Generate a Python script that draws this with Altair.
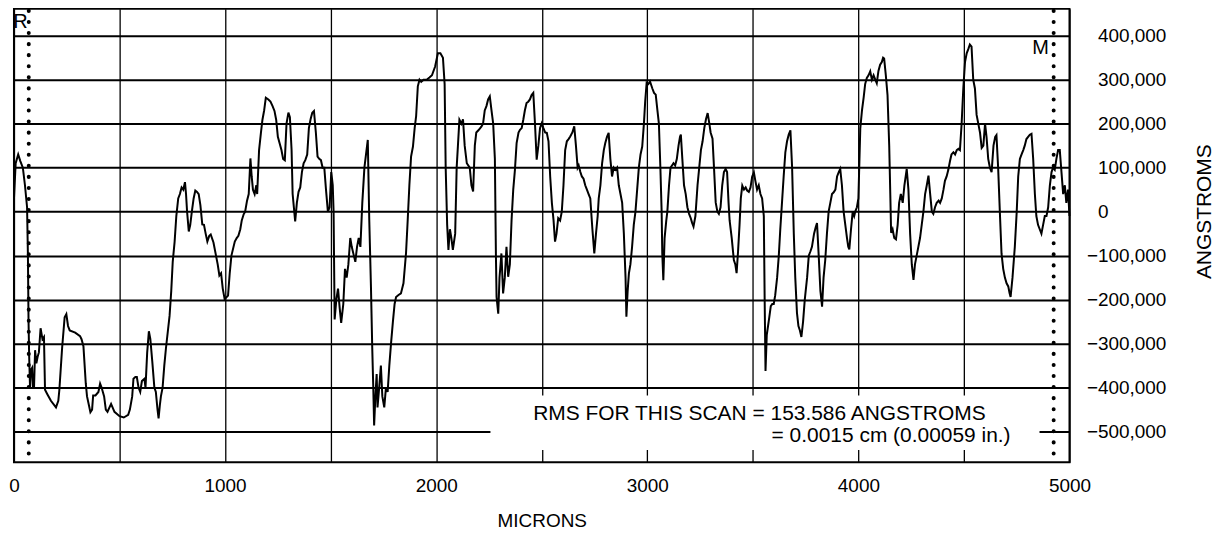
import altair as alt
import pandas as pd

# ---- profile trace (microns, angstroms) ----
SEG_A = [
    (0, 30000), (8, 110000), (20, 130000), (30, 115000), (42, 100000), (52, 60000), (62, 10000),
    (66, -100000), (69, -250000), (72, -330000), (76, -400000), (80, -360000), (86, -355000),
    (90, -400000), (95, -400000), (100, -315000), (106, -345000), (112, -330000), (118, -320000),
    (126, -265000), (135, -290000), (142, -285000), (147, -405000), (158, -415000), (175, -430000),
    (199, -445000), (210, -430000), (215, -405000), (228, -310000), (240, -240000), (248, -233000),
    (256, -260000), (264, -270000), (290, -275000), (313, -283000), (320, -290000), (329, -306000),
    (340, -390000), (346, -420000), (355, -440000), (362, -456000), (370, -450000), (375, -418000),
    (386, -418000), (400, -410000), (408, -391000), (415, -400000), (427, -420000), (435, -450000),
    (443, -455000), (460, -437000), (476, -455000), (500, -465000), (520, -468000), (541, -462000),
    (549, -450000), (560, -420000), (566, -380000), (575, -376000), (582, -376000), (590, -400000),
    (598, -410000), (606, -385000), (618, -380000), (623, -400000), (631, -320000), (639, -272000),
    (646, -290000), (655, -340000), (665, -400000), (672, -410000), (680, -450000), (685, -470000),
    (691, -440000), (696, -420000), (704, -400000), (712, -350000), (720, -310000), (737, -237000),
    (745, -180000), (752, -114000), (761, -68000), (769, -10000), (778, 30000), (786, 40000),
    (794, 55000), (802, 50000), (810, 67000), (815, 40000), (820, 0), (828, -45000), (835, -30000),
    (843, 2000), (851, 30000), (859, 48000), (867, 45000), (875, 40000), (883, 15000), (892, -29000),
    (900, -30000), (908, -50000), (916, -68000), (925, -55000), (932, -52000), (945, -70000),
    (957, -100000), (965, -120000), (973, -145000), (981, -140000), (989, -175000), (998, -199000),
    (1006, -195000), (1014, -191000), (1022, -140000), (1030, -100000), (1046, -68000),
    (1055, -60000), (1063, -55000), (1072, -40000), (1079, -20000), (1088, -6000), (1095, 0),
    (1104, 25000), (1112, 40000), (1120, 121000), (1126, 80000), (1132, 50000), (1140, 40000),
    (1148, 60000), (1152, 40000), (1161, 140000), (1170, 180000), (1177, 209000), (1185, 230000),
    (1193, 259000), (1205, 255000), (1215, 250000), (1225, 240000), (1234, 229000), (1242, 209000),
    (1250, 170000), (1258, 156000), (1267, 140000), (1275, 120000), (1283, 117000), (1291, 200000),
    (1300, 225000), (1307, 215000), (1315, 140000), (1320, 40000), (1332, -22000), (1340, 20000),
    (1348, 45000), (1356, 55000), (1364, 90000), (1372, 110000), (1380, 117000), (1389, 130000),
    (1397, 190000), (1405, 210000), (1413, 225000), (1421, 229000), (1430, 180000), (1438, 125000),
    (1446, 120000), (1454, 117000), (1462, 100000), (1470, 100000), (1478, 50000), (1487, 0),
    (1495, 10000), (1503, 90000), (1510, 60000), (1514, 0), (1519, -245000), (1527, -200000),
    (1535, -175000), (1543, -220000), (1550, -253000), (1560, -210000), (1568, -130000),
    (1576, -150000), (1584, -120000), (1593, -60000), (1600, -80000), (1610, -100000),
    (1617, -114000), (1625, -80000), (1633, -60000), (1641, -80000), (1650, 20000), (1660, 100000),
]

SEG_B = [
    (1676, 163000), (1683, -19000), (1691, -171000), (1697, -308000), (1702, -400000),
    (1706, -486000), (1712, -420000), (1718, -369000), (1722, -445000), (1730, -400000),
    (1738, -350000), (1745, -420000), (1754, -445000), (1762, -400000), (1770, -410000),
    (1778, -350000), (1786, -300000), (1795, -250000), (1803, -210000), (1810, -194000),
    (1820, -190000), (1833, -186000), (1845, -163000), (1857, -95000), (1865, -20000),
    (1873, 60000), (1881, 125000), (1890, 148000), (1898, 190000), (1905, 217000), (1913, 285000),
    (1921, 300000), (1929, 295000), (1940, 300000), (1955, 300000), (1968, 305000), (1980, 310000),
    (1995, 330000), (2008, 360000), (2020, 360000), (2032, 350000), (2040, 290000), (2045, 100000),
    (2052, -30000), (2058, -87000), (2065, -40000), (2072, -60000), (2079, -87000), (2090, -50000),
    (2097, 100000), (2103, 150000), (2110, 209000), (2120, 200000), (2127, 210000), (2135, 150000),
    (2145, 110000), (2159, 100000), (2167, 60000), (2175, 46000), (2183, 150000), (2190, 180000),
    (2200, 185000), (2214, 193000), (2222, 200000), (2230, 230000), (2238, 240000), (2246, 255000),
    (2254, 262000), (2262, 230000), (2270, 200000), (2278, 120000), (2283, -100000),
    (2286, -194000), (2294, -232000), (2300, -150000), (2309, -95000), (2317, -186000),
    (2325, -150000), (2333, -80000), (2341, -148000), (2349, -120000), (2357, -20000),
    (2365, 50000), (2373, 95000), (2381, 156000), (2390, 180000), (2397, 186000), (2405, 190000),
    (2413, 210000), (2420, 230000), (2428, 247000), (2436, 250000), (2444, 255000), (2452, 265000),
    (2460, 270000), (2468, 200000), (2476, 118000), (2484, 150000), (2492, 190000), (2500, 201000),
    (2508, 190000), (2516, 180000), (2524, 179000), (2532, 160000), (2540, 80000), (2548, 20000),
    (2556, -20000), (2563, -68000), (2570, -50000), (2578, -15000), (2587, -20000), (2595, 0),
    (2603, 60000), (2611, 140000), (2619, 160000), (2627, 165000), (2635, 171000), (2645, 180000),
    (2654, 194000), (2662, 150000), (2670, 100000), (2675, 105000), (2683, 90000), (2690, 80000),
    (2698, 75000), (2706, 60000), (2714, 50000), (2722, 40000), (2730, 30000), (2740, -40000),
    (2749, -95000), (2757, -50000), (2765, -10000), (2770, 30000), (2778, 60000), (2786, 110000),
    (2794, 140000), (2801, 156000), (2809, 170000), (2817, 179000), (2825, 120000), (2833, 80000),
    (2841, 100000), (2849, 95000), (2857, 100000), (2865, 60000), (2873, 40000), (2881, 20000),
    (2889, -50000), (2897, -150000), (2901, -239000), (2907, -180000), (2913, -140000),
    (2920, -120000), (2928, -80000), (2936, -30000), (2944, 0), (2952, 50000), (2960, 100000),
    (2968, 130000), (2976, 148000), (2984, 200000), (2990, 250000), (2997, 293000), (3005, 290000),
    (3013, 296000), (3024, 280000), (3032, 270000), (3040, 266000), (3048, 230000), (3055, 200000),
    (3062, 100000), (3068, 0), (3071, -95000), (3076, -156000), (3082, -60000), (3090, -20000),
    (3095, 0), (3103, 60000), (3110, 100000), (3117, 105000), (3124, 110000), (3132, 105000),
    (3140, 120000), (3148, 150000), (3155, 170000), (3159, 175000), (3166, 120000), (3174, 60000),
    (3182, 40000), (3190, 10000), (3198, -5000), (3206, -15000), (3212, -25000), (3219, -34000),
    (3228, -10000), (3238, 60000), (3246, 100000), (3254, 140000), (3262, 160000), (3270, 190000),
    (3278, 210000), (3286, 224000), (3294, 200000), (3300, 180000),
]

SEG_C = [
    (3309, 166000), (3316, 100000), (3324, 21000), (3332, 0), (3339, -5000), (3347, 10000),
    (3355, 60000), (3363, 90000), (3371, 97000), (3378, 90000), (3385, 20000), (3390, -20000),
    (3400, -60000), (3410, -110000), (3417, -120000), (3423, -140000), (3430, -90000),
    (3437, -30000), (3443, 30000), (3450, 59000), (3458, 50000), (3466, 55000), (3473, 48000),
    (3481, 45000), (3489, 55000), (3497, 80000), (3505, 89000), (3512, 70000), (3520, 50000),
    (3528, 60000), (3536, 40000), (3544, 30000), (3552, -10000), (3556, -200000), (3560, -362000),
    (3566, -280000), (3572, -260000), (3578, -240000), (3585, -215000), (3592, -210000),
    (3599, -210000), (3606, -190000), (3615, -150000), (3623, -100000), (3630, -40000),
    (3638, 20000), (3646, 80000), (3654, 135000), (3662, 160000), (3670, 175000), (3678, 185000),
    (3686, 100000), (3694, -50000), (3701, -150000), (3709, -230000), (3716, -260000),
    (3723, -270000), (3730, -285000), (3738, -250000), (3746, -200000), (3757, -150000),
    (3765, -100000), (3773, -90000), (3780, -80000), (3790, -50000), (3798, -35000),
    (3804, -26000), (3812, -100000), (3820, -180000), (3828, -216000), (3835, -150000),
    (3843, -110000), (3851, -50000), (3859, 0), (3867, 20000), (3875, 40000), (3883, 44000),
    (3891, 50000), (3899, 80000), (3907, 90000), (3914, 97000), (3922, 60000), (3930, 0),
    (3938, -30000), (3946, -60000), (3952, -80000), (3957, -86000), (3965, -40000), (3973, 0),
    (3980, -10000), (3985, 0), (3993, 10000), (4000, 30000), (4009, 189000), (4017, 230000),
    (4025, 260000), (4032, 290000), (4040, 304000), (4048, 310000), (4056, 319000), (4064, 300000),
    (4072, 310000), (4080, 300000), (4087, 292000), (4095, 320000), (4103, 334000), (4111, 340000),
    (4117, 350000), (4122, 348000), (4130, 310000), (4138, 265000), (4146, 150000), (4152, 20000),
    (4155, -48000), (4162, -40000), (4170, -60000), (4178, -63000), (4186, -30000), (4193, 20000),
    (4201, 40000), (4210, 20000), (4218, 60000), (4229, 97000), (4237, 50000), (4245, -50000),
    (4253, -120000), (4261, -155000), (4268, -120000), (4276, -100000), (4284, -80000),
    (4292, -60000), (4300, -30000), (4308, 0), (4316, 40000), (4324, 60000), (4332, 82000),
    (4340, 40000), (4348, 0), (4355, -5000), (4363, 10000), (4371, 20000), (4380, 25000),
    (4387, 20000), (4395, 30000), (4403, 50000), (4410, 70000), (4418, 80000), (4426, 95000),
    (4434, 115000), (4441, 130000), (4450, 135000), (4458, 130000), (4466, 140000), (4474, 143000),
    (4481, 140000), (4489, 200000), (4497, 280000), (4505, 340000), (4513, 360000), (4521, 370000),
    (4528, 380000), (4536, 375000), (4544, 300000), (4552, 280000), (4560, 220000), (4568, 200000),
    (4576, 180000), (4584, 145000), (4592, 150000), (4600, 200000), (4607, 170000), (4615, 120000),
    (4623, 100000), (4631, 90000), (4640, 150000), (4648, 170000), (4654, 174000), (4662, 100000),
    (4670, 0), (4678, -95000), (4686, -130000), (4694, -150000), (4702, -163000), (4710, -170000),
    (4716, -185000), (4721, -194000), (4730, -150000), (4741, -80000), (4750, 0), (4757, 80000),
    (4765, 120000), (4773, 130000), (4781, 140000), (4788, 150000), (4796, 165000), (4804, 170000),
    (4812, 175000), (4820, 177000), (4828, 120000), (4836, 40000), (4843, -10000), (4851, -30000),
    (4859, -40000), (4867, -50000), (4875, -30000), (4883, -10000), (4891, -10000), (4899, 10000),
    (4907, 60000), (4915, 90000), (4922, 100000), (4930, 95000), (4938, 120000), (4946, 140000),
    (4954, 140000), (4962, 90000), (4970, 40000), (4978, 60000), (4985, 20000), (4993, 50000),
    (5000, -10000),
]

X_TICKS = list(range(0, 5001, 500))
Y_TICKS = list(range(-500000, 400001, 100000))
X_DOMAIN = [0, 5000]
Y_DOMAIN = [-570000, 461000]

MARKER_NAMES = ["R", "M"]
MARKER_LINE_X = [70, 4925]
MARKER_LABEL_X = [30, 4863]
MARKER_LABEL_Y = [431000, 372000]

RMS_LINES = ["RMS FOR THIS SCAN = 153.586 ANGSTROMS", "= 0.0015 cm (0.00059 in.)"]
RMS_X = [3531, 4721]
RMS_Y = [-460000, -510000]
RMS_ALIGN = ["center", "right"]
BOX = {"x": [2257], "x2": [4858], "y": [-418000], "y2": [-542000]}

FONT = "Liberation Sans"
W, H = 1059, 455

trace_df = pd.DataFrame(SEG_A + SEG_B + SEG_C, columns=["x", "y"])
trace_df["i"] = range(len(trace_df))

xs = alt.Scale(domain=X_DOMAIN, nice=False, zero=False)
ys = alt.Scale(domain=Y_DOMAIN, nice=False, zero=False)

x_axis = alt.Axis(
    title="MICRONS", values=X_TICKS, format="d",
    labelExpr="datum.value % 1000 === 0 ? datum.label : ''",
    grid=True, gridColor="black", gridWidth=1.3, gridOpacity=1,
    ticks=False, tickSize=0, domain=False,
    labelFont=FONT, labelFontSize=19, labelColor="black", labelPadding=14,
    labelFlush=False, labelOverlap=False,
    titleFont=FONT, titleFontSize=19, titleFontWeight="normal", titleColor="black",
    titleY=58, titleBaseline="middle",
)
y_axis = alt.Axis(
    title="ANGSTROMS", orient="right", values=Y_TICKS, format=",d",
    grid=True, gridColor="black", gridWidth=2, gridOpacity=1,
    ticks=False, tickSize=0, domain=False,
    labelFont=FONT, labelFontSize=19, labelColor="black", labelAlign="left",
    labelPadding={"condition": {"test": "datum.value < 0", "value": 17}, "value": 28},
    labelFlush=False, labelOverlap=False,
    titleFont=FONT, titleFontSize=21, titleFontWeight="normal", titleColor="black",
    titleAngle=270, titleX=135, titleY=203, titleAlign="center", titleBaseline="middle",
)

trace = alt.Chart(trace_df).mark_line(color="black", strokeWidth=2).encode(
    x=alt.X("x:Q", scale=xs, axis=x_axis),
    y=alt.Y("y:Q", scale=ys, axis=y_axis),
    order="i:Q",
)

box = alt.Chart(pd.DataFrame(BOX)).mark_rect(fill="white").encode(
    x="x:Q", x2="x2:Q", y="y:Q", y2="y2:Q"
)

rms_layers = []
for t, xv, yv, al in zip(RMS_LINES, RMS_X, RMS_Y, RMS_ALIGN):
    rms_layers.append(
        alt.Chart(pd.DataFrame({"x": [xv], "y": [yv], "t": [t]}))
        .mark_text(font=FONT, fontSize=21, align=al, baseline="middle", color="black")
        .encode(x="x:Q", y="y:Q", text="t:N")
    )

rules = alt.Chart(pd.DataFrame({"x": MARKER_LINE_X})).mark_rule(
    color="black", strokeWidth=4, strokeDash=[0.1, 11], strokeCap="round"
).encode(x="x:Q", y=alt.value(2), y2=alt.value(H))

marker_text = alt.Chart(
    pd.DataFrame({"x": MARKER_LABEL_X, "y": MARKER_LABEL_Y, "t": MARKER_NAMES})
).mark_text(font=FONT, fontSize=20, align="center", baseline="middle", color="black").encode(
    x="x:Q", y="y:Q", text="t:N"
)

chart = alt.layer(trace, box, *rms_layers, rules, marker_text).properties(
    width=W, height=H,
    padding={"left": 0, "top": 0, "right": 5, "bottom": 5},
    background="white",
).configure_view(stroke="black", strokeWidth=2)

chart.save("out.html", embed_options={"renderer": "svg", "actions": False})
